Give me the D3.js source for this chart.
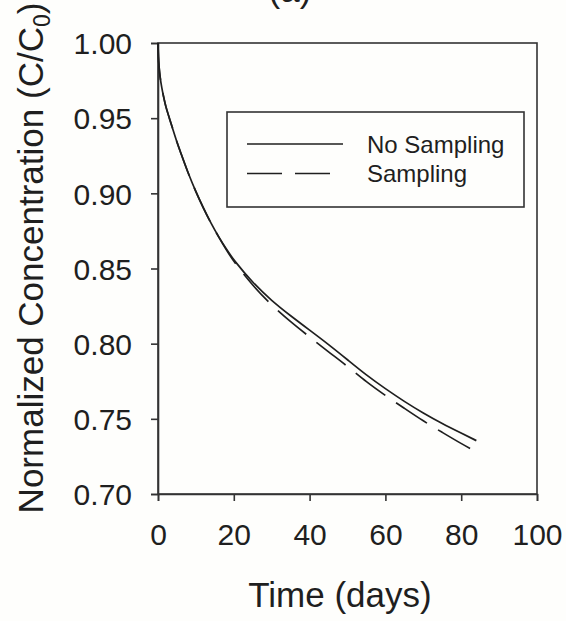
<!DOCTYPE html>
<html>
<head>
<meta charset="utf-8">
<script src="https://cdn.jsdelivr.net/npm/d3@7"></script>
<style>
  body { margin: 0; background: #fefefc; }
  svg { display: block; font-family: "Liberation Sans", Arial, sans-serif; }
</style>
</head>
<body>
<div id="chart"></div>
<script>
// time (days) and normalized concentration
var timeNoSampling = [0, 0.1, 0.25, 0.5, 1, 1.5, 2, 3, 4, 5, 6, 8, 10, 12, 14, 16, 18, 20, 25, 30, 35, 40, 45, 50, 55, 60, 65, 70, 75, 80, 84];
var concNoSampling = [1.000, 0.990, 0.985, 0.978, 0.970, 0.964, 0.958, 0.950, 0.942, 0.934, 0.927, 0.913, 0.901, 0.890, 0.880, 0.871, 0.863, 0.8555, 0.8405, 0.8285, 0.8185, 0.809, 0.7995, 0.7893, 0.779, 0.770, 0.7615, 0.7538, 0.7468, 0.7405, 0.7355];

var timeSampling = [0, 0.1, 0.25, 0.5, 1, 1.5, 2, 3, 4, 5, 6, 8, 10, 12, 14, 16, 18, 20, 25, 30, 35, 40, 45, 50, 55, 60, 65, 70, 75, 80, 84];
var concSampling = [1.000, 0.990, 0.985, 0.978, 0.970, 0.964, 0.958, 0.950, 0.942, 0.934, 0.927, 0.913, 0.901, 0.890, 0.880, 0.871, 0.8625, 0.8545, 0.8385, 0.8255, 0.8145, 0.8045, 0.7945, 0.785, 0.7745, 0.7655, 0.757, 0.7485, 0.741, 0.7335, 0.728];

var xTicks = [0, 20, 40, 60, 80, 100];
var yTicks = [0.70, 0.75, 0.80, 0.85, 0.90, 0.95, 1.00];
var legendLabels = ["No Sampling", "Sampling"];

var width = 566, height = 621;
var margin = {top: 43, right: 29, bottom: 127, left: 158};
var ink = "#1f1f1f";

var svg = d3.select("#chart").append("svg")
	.attr("width", width)
	.attr("height", height);

svg.append("rect").attr("width", width).attr("height", height).attr("fill", "#fefefc");

var x = d3.scaleLinear().domain([0, 100]).range([margin.left, width - margin.right]);
var y = d3.scaleLinear().domain([0.70, 1.00]).range([height - margin.bottom, margin.top]);

// panel label, cropped at the top edge like in the figure
svg.append("text")
	.attr("x", 290).attr("y", 2)
	.attr("text-anchor", "middle")
	.attr("font-size", 35)
	.attr("fill", ink)
	.text("(a)");

// frame
svg.append("rect")
	.attr("x", x(0)).attr("y", y(1))
	.attr("width", x(100) - x(0)).attr("height", y(0.70) - y(1))
	.attr("fill", "none").attr("stroke", "#333").attr("stroke-width", 1.6);

// axes
var xAxis = svg.append("g")
	.attr("transform", "translate(0," + y(0.70) + ")")
	.call(d3.axisBottom(x).tickValues(xTicks).tickSize(7).tickPadding(23).tickFormat(d3.format("d")));
var yAxis = svg.append("g")
	.attr("transform", "translate(" + x(0) + ",0)")
	.call(d3.axisLeft(y).tickValues(yTicks).tickSize(7).tickPadding(19).tickFormat(d3.format(".2f")));

[xAxis, yAxis].forEach(function(g) {
	g.select(".domain").attr("stroke", "#333").attr("stroke-width", 1.6);
	g.selectAll(".tick line").attr("stroke", "#333").attr("stroke-width", 1.6);
	g.selectAll(".tick text")
		.attr("font-family", "Liberation Sans, Arial, sans-serif")
		.attr("font-size", 30)
		.attr("fill", ink);
});
yAxis.selectAll(".tick text").attr("dy", "0.36em");

// axis titles
svg.append("text")
	.attr("x", 340).attr("y", 607)
	.attr("text-anchor", "middle")
	.attr("font-size", 35)
	.attr("fill", ink)
	.text("Time (days)");

var yTitle = svg.append("text")
	.attr("transform", "translate(43,258) rotate(-90)")
	.attr("text-anchor", "middle")
	.attr("font-size", 35)
	.attr("fill", ink);
yTitle.append("tspan").text("Normalized Concentration (C/C");
yTitle.append("tspan").attr("font-size", 23).attr("baseline-shift", "-30%").text("0");
yTitle.append("tspan").text(")");

// curves
var line = d3.line()
	.x(function(d) { return x(d[0]); })
	.y(function(d) { return y(d[1]); })
	.curve(d3.curveBasis);

svg.append("path")
	.datum(d3.zip(timeSampling, concSampling))
	.attr("d", line)
	.attr("fill", "none").attr("stroke", ink).attr("stroke-width", 1.7)
	.attr("stroke-dasharray", "37,13");

svg.append("path")
	.datum(d3.zip(timeNoSampling, concNoSampling))
	.attr("d", line)
	.attr("fill", "none").attr("stroke", ink).attr("stroke-width", 1.7);

// legend
var legend = svg.append("g");
legend.append("rect")
	.attr("x", 227).attr("y", 112)
	.attr("width", 297).attr("height", 95)
	.attr("fill", "#fefefc").attr("stroke", "#333").attr("stroke-width", 1.6);

legendLabels.forEach(function(label, i) {
	var ly = 144 + i * 29.5;
	legend.append("line")
		.attr("x1", 247).attr("x2", 343)
		.attr("y1", ly).attr("y2", ly)
		.attr("stroke", ink).attr("stroke-width", 1.7)
		.attr("stroke-dasharray", i === 1 ? "35,13" : null);
	legend.append("text")
		.attr("x", 367).attr("y", ly + 8.5)
		.attr("font-size", 24)
		.attr("fill", ink)
		.text(label);
});
</script>
</body>
</html>
